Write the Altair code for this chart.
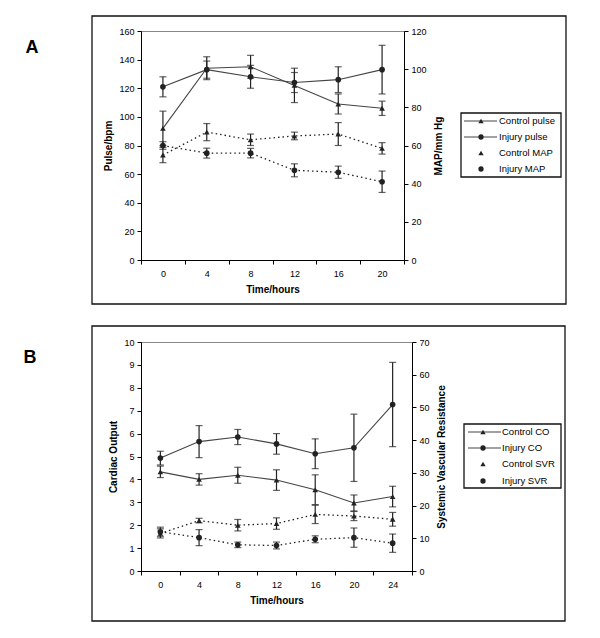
import altair as alt
import pandas as pd

FONT = "Liberation Sans"
INK = "#222222"

# ---------------- Panel A data ----------------
a_times = ["0", "4", "8", "12", "16", "20"]
a_series_left = ["Control pulse", "Injury pulse"]
ctrl_pulse = [92, 134, 135, 122, 109, 106]
ctrl_pulse_err = [12, 8, 8, 12, 7, 5]
inj_pulse = [121, 133, 128, 124, 126, 133]
inj_pulse_err = [7, 6, 8, 7, 9, 17]
a_series_right = ["Control MAP", "Injury MAP"]
ctrl_map = [55, 67, 63, 65, 66, 58.5]
ctrl_map_err = [4, 4.5, 3, 2, 6, 3]
inj_map = [60, 56, 56, 47, 46, 41]
inj_map_err = [2, 2.6, 2.5, 3.4, 3.2, 5.6]
a_left_ticks = [0, 20, 40, 60, 80, 100, 120, 140, 160]
a_right_ticks = [0, 20, 40, 60, 80, 100, 120]

# ---------------- Panel B data ----------------
b_times = ["0", "4", "8", "12", "16", "20", "24"]
b_series_left = ["Control CO", "Injury CO"]
ctrl_co = [4.33, 4.0, 4.18, 3.97, 3.55, 2.97, 3.25]
ctrl_co_err = [0.25, 0.25, 0.35, 0.45, 0.65, 0.35, 0.45]
inj_co = [4.93, 5.65, 5.85, 5.55, 5.12, 5.38, 7.27]
inj_co_err = [0.3, 0.7, 0.33, 0.45, 0.65, 1.47, 1.84]
b_series_right = ["Control SVR", "Injury SVR"]
ctrl_svr = [11.5, 15.4, 14.0, 14.5, 17.3, 16.8, 15.8]
ctrl_svr_err = [1.4, 0.7, 1.75, 1.75, 2.8, 1.4, 2.1]
inj_svr = [12.0, 10.2, 8.0, 7.8, 9.7, 10.2, 8.5]
inj_svr_err = [1.4, 2.45, 0.85, 1.05, 1.05, 2.95, 2.8]
b_left_ticks = [0, 1, 2, 3, 4, 5, 6, 7, 8, 9, 10]
b_right_ticks = [0, 10, 20, 30, 40, 50, 60, 70]

SHAPES = ["triangle-up", "circle"]


def long_df(times, names, vals, errs):
    rows = []
    for name, v, e in zip(names, vals, errs):
        for t, vv, ee in zip(times, v, e):
            rows.append({"time": t, "series": name, "value": vv,
                         "lo": vv - ee, "hi": vv + ee})
    return pd.DataFrame(rows)


def side(df, times, names, domain, ticks, title, orient, dash, title_pad):
    x = alt.X("time:N", sort=times,
              scale=alt.Scale(paddingInner=0, paddingOuter=0),
              axis=alt.Axis(labelAngle=0, tickBand="extent", title="Time/hours",
                            labelPadding=5, titlePadding=6))
    scale = alt.Scale(domain=domain, nice=False, zero=True)
    axis = alt.Axis(values=ticks, orient=orient, title=title, grid=False,
                    titleAngle=270, titlePadding=title_pad,
                    labelPadding=3)
    base = alt.Chart(df)
    line_kw = dict(color="#444444", strokeWidth=1.1)
    if dash:
        line_kw["strokeDash"] = [1.5, 3]
        line_kw["color"] = INK
        line_kw["strokeWidth"] = 1.3
    lines = base.mark_line(**line_kw).encode(
        x=x, y=alt.Y("value:Q", scale=scale, axis=axis), detail="series:N")
    rules = base.mark_rule(color=INK, strokeWidth=1.2).encode(
        x=x, y=alt.Y("lo:Q", scale=scale, axis=axis), y2="hi:Q")
    cap_lo = base.mark_tick(color=INK, size=7, thickness=1.2, orient="horizontal").encode(
        x=x, y=alt.Y("lo:Q", scale=scale, axis=axis))
    cap_hi = base.mark_tick(color=INK, size=7, thickness=1.2, orient="horizontal").encode(
        x=x, y=alt.Y("hi:Q", scale=scale, axis=axis))
    pts = base.mark_point(filled=True, size=32, opacity=1, color=INK).encode(
        x=x, y=alt.Y("value:Q", scale=scale, axis=axis),
        shape=alt.Shape("series:N", scale=alt.Scale(domain=names, range=SHAPES),
                        legend=None))
    return alt.layer(lines, rules, cap_lo, cap_hi, pts)


one = pd.DataFrame({"k": [0]})


def deco(bound, box, letter, letter_pos, legend_box, rows_y, line_x, marker_x,
         text_x, labels, solid_flags):
    layers = []
    layers.append(alt.Chart(one).mark_rect(opacity=0).encode(
        x=alt.value(bound[0]), x2=alt.value(bound[1]),
        y=alt.value(bound[2]), y2=alt.value(bound[3])))
    layers.append(alt.Chart(one).mark_rect(fill="transparent", stroke="#111111",
                                            strokeWidth=1.3).encode(
        x=alt.value(box[0]), x2=alt.value(box[1]),
        y=alt.value(box[2]), y2=alt.value(box[3])))
    layers.append(alt.Chart(one).mark_text(font=FONT, fontSize=18, fontWeight="bold",
                                            color="black", baseline="middle",
                                            align="center").encode(
        x=alt.value(letter_pos[0]), y=alt.value(letter_pos[1]),
        text=alt.value(letter)))
    layers.append(alt.Chart(one).mark_rect(fill="transparent", stroke="#111111",
                                            strokeWidth=1.3).encode(
        x=alt.value(legend_box[0]), x2=alt.value(legend_box[1]),
        y=alt.value(legend_box[2]), y2=alt.value(legend_box[3])))
    for i, (lab, yy, solid) in enumerate(zip(labels, rows_y, solid_flags)):
        if solid:
            layers.append(alt.Chart(one).mark_rule(color="#444444", strokeWidth=1.1).encode(
                x=alt.value(line_x[0]), x2=alt.value(line_x[1]), y=alt.value(yy)))
        layers.append(alt.Chart(one).mark_point(filled=True, size=28, opacity=1,
                                                 color=INK, shape=SHAPES[i % 2]).encode(
            x=alt.value(marker_x), y=alt.value(yy)))
        layers.append(alt.Chart(one).mark_text(font=FONT, fontSize=9.5, align="left",
                                                baseline="middle", color="black").encode(
            x=alt.value(text_x), y=alt.value(yy), text=alt.value(lab)))
    return layers


# ---------------- Panel A ----------------
dfa_l = long_df(a_times, a_series_left, [ctrl_pulse, inj_pulse], [ctrl_pulse_err, inj_pulse_err])
dfa_r = long_df(a_times, a_series_right, [ctrl_map, inj_map], [ctrl_map_err, inj_map_err])
a_left = side(dfa_l, a_times, a_series_left, [0, 160], a_left_ticks, "Pulse/bpm", "left", False, 5)
a_right = side(dfa_r, a_times, a_series_right, [0, 120], a_right_ticks, "MAP/mm Hg", "right", True, 17)
a_deco = deco(bound=(-132, 430, -22, 285), box=(-49, 425, -15, 273), letter="A",
              letter_pos=(-109, 17), legend_box=(320, 420, 82, 146),
              rows_y=[90, 106, 122, 138], line_x=(323, 356), marker_x=340, text_x=358,
              labels=a_series_left + a_series_right, solid_flags=[True, True, False, False])
panel_a = alt.layer(*a_deco[:2], a_left, a_right, *a_deco[2:]).resolve_scale(
    y="independent").properties(width=263, height=229)

# ---------------- Panel B ----------------
dfb_l = long_df(b_times, b_series_left, [ctrl_co, inj_co], [ctrl_co_err, inj_co_err])
dfb_r = long_df(b_times, b_series_right, [ctrl_svr, inj_svr], [ctrl_svr_err, inj_svr_err])
b_left = side(dfb_l, b_times, b_series_left, [0, 10], b_left_ticks, "Cardiac Output", "left", False, 5)
b_right = side(dfb_r, b_times, b_series_right, [0, 70], b_right_ticks,
               "Systemic Vascular Resistance", "right", True, 17)
b_deco = deco(bound=(-132, 426, -24, 288), box=(-49, 424, -16, 279), letter="B",
              letter_pos=(-111, 16), legend_box=(323, 420, 82, 146),
              rows_y=[90, 106, 122, 139], line_x=(327, 360), marker_x=342, text_x=361,
              labels=b_series_left + b_series_right, solid_flags=[True, True, False, False])
panel_b = alt.layer(*b_deco[:2], b_left, b_right, *b_deco[2:]).resolve_scale(
    y="independent").properties(width=271, height=229)

chart = alt.concat(panel_a, panel_b, columns=1, spacing=0).properties(
    padding=0, background="white", align="none"
).configure_view(stroke="#888888", strokeWidth=1).configure_axis(
    labelFont=FONT, titleFont=FONT, labelFontSize=9, titleFontSize=10,
    titleFontWeight="bold", labelColor="black", titleColor="black",
    domainColor="black", tickColor="black", tickSize=4, domainWidth=1, tickWidth=1
)

chart.save("out.html", embed_options={"renderer": "svg", "actions": False})
